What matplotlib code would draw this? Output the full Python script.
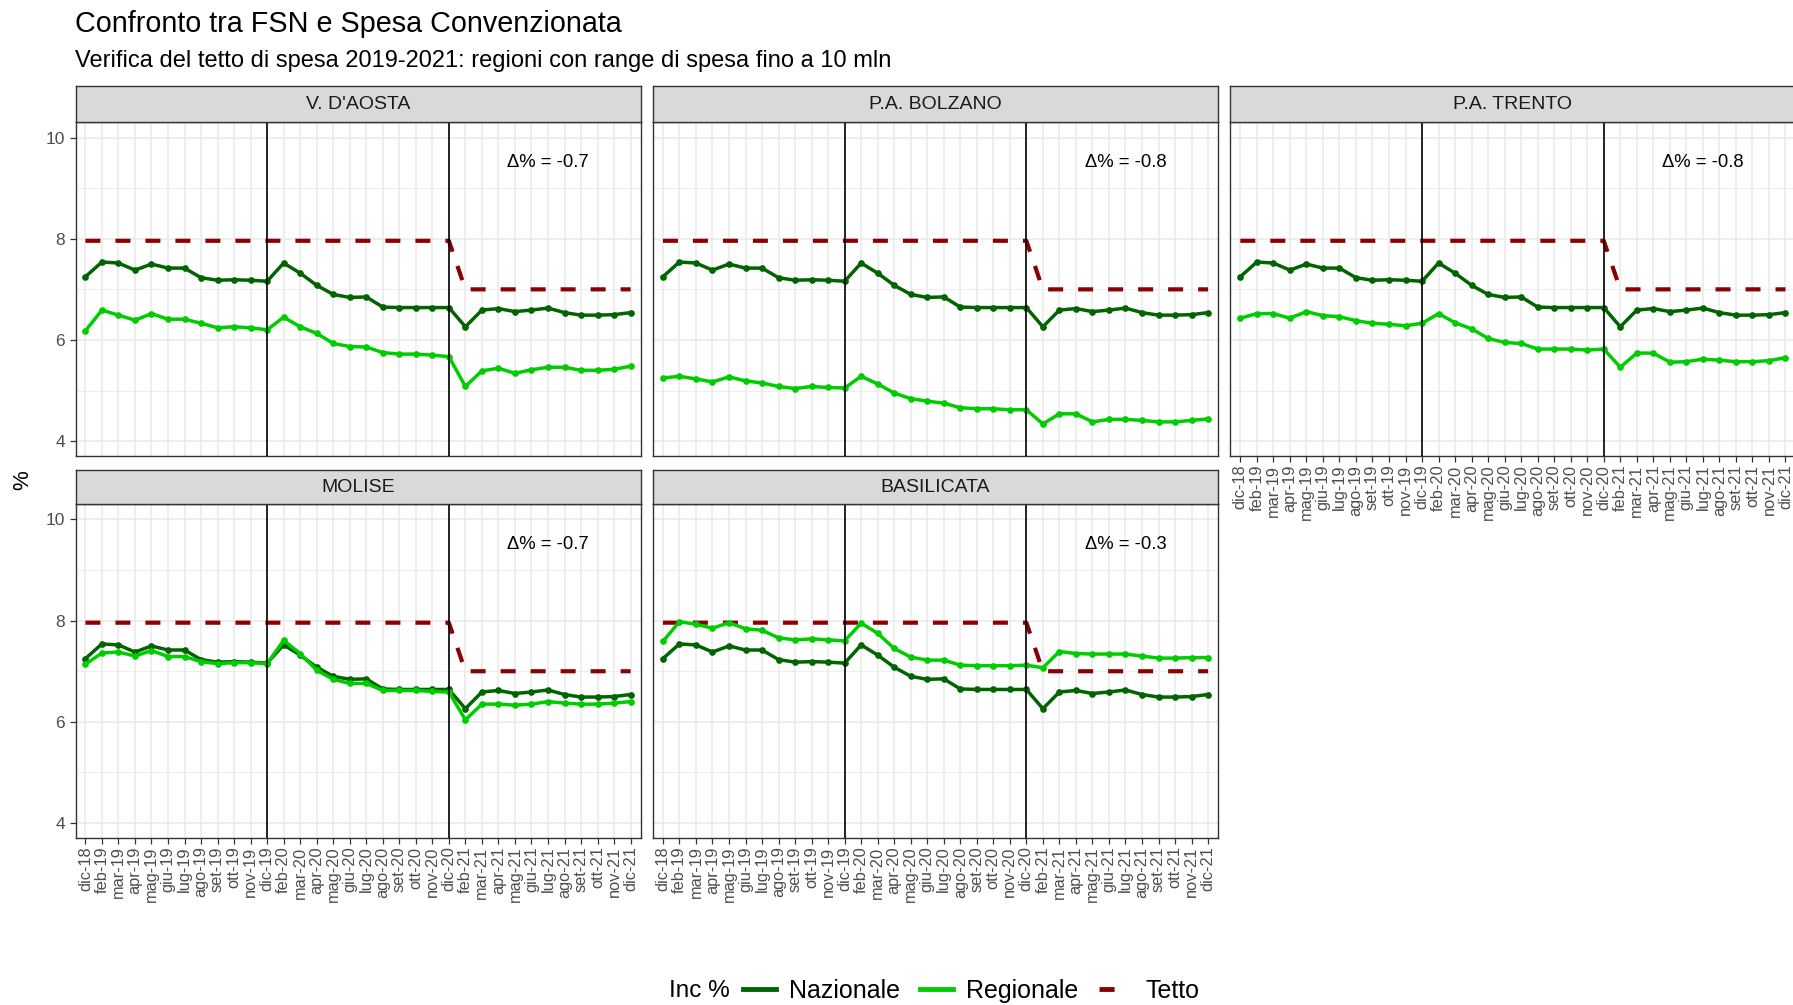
import matplotlib.pyplot as plt
from matplotlib.lines import Line2D

plt.rcParams["font.family"] = ["Liberation Sans", "DejaVu Sans"]

MONTHS = [
    "dic-18", "feb-19", "mar-19", "apr-19", "mag-19", "giu-19", "lug-19", "ago-19",
    "set-19", "ott-19", "nov-19", "dic-19", "feb-20", "mar-20", "apr-20", "mag-20",
    "giu-20", "lug-20", "ago-20", "set-20", "ott-20", "nov-20", "dic-20", "feb-21",
    "mar-21", "apr-21", "mag-21", "giu-21", "lug-21", "ago-21", "set-21", "ott-21",
    "nov-21", "dic-21",
]

NAZIONALE = [
    7.25, 7.54, 7.52, 7.38, 7.50, 7.42, 7.42, 7.23, 7.18, 7.19, 7.18, 7.16,
    7.52, 7.32, 7.08, 6.90, 6.84, 6.85, 6.65, 6.64, 6.64, 6.64, 6.64,
    6.26, 6.59, 6.62, 6.56, 6.59, 6.63, 6.54, 6.49, 6.49, 6.50, 6.54,
]

TETTO = [
    7.96, 7.96, 7.96, 7.96, 7.96, 7.96, 7.96, 7.96, 7.96, 7.96, 7.96, 7.96,
    7.96, 7.96, 7.96, 7.96, 7.96, 7.96, 7.96, 7.96, 7.96, 7.96, 7.96,
    7.00, 7.00, 7.00, 7.00, 7.00, 7.00, 7.00, 7.00, 7.00, 7.00, 7.00,
]

REG_VDA = [
    6.18, 6.59, 6.49, 6.39, 6.52, 6.41, 6.41, 6.33, 6.24, 6.26, 6.24, 6.20,
    6.45, 6.26, 6.13, 5.93, 5.87, 5.86, 5.75, 5.72, 5.72, 5.70, 5.67,
    5.08, 5.39, 5.44, 5.34, 5.41, 5.46, 5.46, 5.40, 5.40, 5.42, 5.48,
]
REG_BOLZANO = [
    5.25, 5.28, 5.23, 5.17, 5.27, 5.19, 5.15, 5.08, 5.04, 5.08, 5.06, 5.05,
    5.28, 5.13, 4.95, 4.84, 4.79, 4.75, 4.66, 4.64, 4.64, 4.62, 4.62,
    4.34, 4.54, 4.54, 4.38, 4.43, 4.43, 4.41, 4.38, 4.38, 4.41, 4.44,
]
REG_TRENTO = [
    6.43, 6.52, 6.52, 6.43, 6.56, 6.48, 6.46, 6.38, 6.33, 6.31, 6.28, 6.33,
    6.52, 6.34, 6.22, 6.03, 5.95, 5.93, 5.82, 5.82, 5.82, 5.80, 5.82,
    5.46, 5.74, 5.74, 5.56, 5.57, 5.62, 5.60, 5.57, 5.57, 5.59, 5.65,
]
REG_MOLISE = [
    7.14, 7.36, 7.38, 7.30, 7.41, 7.29, 7.29, 7.19, 7.15, 7.17, 7.17, 7.15,
    7.61, 7.35, 7.02, 6.84, 6.76, 6.76, 6.62, 6.62, 6.62, 6.60, 6.59,
    6.04, 6.35, 6.35, 6.33, 6.35, 6.40, 6.37, 6.35, 6.35, 6.37, 6.40,
]
REG_BASILICATA = [
    7.59, 7.98, 7.93, 7.85, 7.96, 7.84, 7.81, 7.66, 7.62, 7.64, 7.62, 7.60,
    7.95, 7.75, 7.45, 7.28, 7.22, 7.22, 7.12, 7.11, 7.11, 7.11, 7.12,
    7.07, 7.39, 7.35, 7.34, 7.34, 7.34, 7.30, 7.26, 7.26, 7.27, 7.27,
]

REGIONS = ["V. D'AOSTA", "P.A. BOLZANO", "P.A. TRENTO", "MOLISE", "BASILICATA"]
REGIONALE = [REG_VDA, REG_BOLZANO, REG_TRENTO, REG_MOLISE, REG_BASILICATA]
DELTA = [-0.7, -0.8, -0.8, -0.7, -0.3]
BREAKS = ["dic-19", "dic-20"]

C_NAZ = "#006400"
C_REG = "#00CD00"
C_TETTO = "#8B0000"

W, H = 1793, 1005
fig = plt.figure(figsize=(W / 100, H / 100), dpi=100)


def fx(px):
    return px / W


def fy(px):
    return 1 - px / H


# (strip_top, panel_top, panel_bottom) in pixels per row, left edge per column
COL_X = [75.5, 653.0, 1230.4]
PANEL_W = 565.0
ROWS = [(86.0, 122.4, 456.3), (470.0, 504.3, 838.2)]
LAYOUT = [(0, 0), (0, 1), (0, 2), (1, 0), (1, 1)]

x = list(range(len(MONTHS)))

for i, (name, reg, delta) in enumerate(zip(REGIONS, REGIONALE, DELTA)):
    r, c = LAYOUT[i]
    s_top, p_top, p_bot = ROWS[r]
    left = COL_X[c]
    ax = fig.add_axes([fx(left), fy(p_bot), PANEL_W / W, (p_bot - p_top) / H])
    sax = fig.add_axes([fx(left), fy(p_top), PANEL_W / W, (p_top - s_top) / H])

    # strip
    sax.set_facecolor("#D9D9D9")
    sax.set_xticks([])
    sax.set_yticks([])
    for sp in sax.spines.values():
        sp.set_color("#333333")
        sp.set_linewidth(1.0)
    sax.text(0.5, 0.5, name, ha="center", va="center", fontsize=14,
             color="#1A1A1A", transform=sax.transAxes)

    # panel
    ax.set_xlim(-0.6, len(MONTHS) - 0.4)
    ax.set_ylim(3.7, 10.3)
    ax.set_yticks([4, 6, 8, 10])
    ax.set_yticks([5, 7, 9], minor=True)
    ax.set_xticks(x)
    ax.grid(which="major", color="#EBEBEB", lw=1.2)
    ax.grid(which="minor", axis="y", color="#EBEBEB", lw=0.6)
    ax.set_axisbelow(True)
    for sp in ax.spines.values():
        sp.set_color("#333333")
        sp.set_linewidth(1.0)
    ax.tick_params(which="minor", length=0)
    ax.tick_params(which="major", length=4, width=0.9, color="#333333",
                   labelcolor="#4D4D4D")

    show_x = (r == 1) or (c == 2)
    if show_x:
        ax.set_xticklabels(MONTHS, rotation=90, fontsize=11.8)
        ax.tick_params(axis="x", pad=2)
    else:
        ax.tick_params(axis="x", length=0, labelbottom=False)
    if c == 0:
        ax.tick_params(axis="y", labelsize=12.5)
    else:
        ax.tick_params(axis="y", length=0, labelleft=False)

    ax.plot(x, TETTO, color=C_TETTO, lw=3.0, dashes=(3.6, 3.6), zorder=2)
    ax.plot(x, NAZIONALE, color=C_NAZ, lw=2.5, marker="o", ms=3.8, zorder=3)
    ax.plot(x, reg, color=C_REG, lw=2.5, marker="o", ms=3.8, zorder=3)
    for b in BREAKS:
        ax.axvline(MONTHS.index(b), color="black", lw=1.2, zorder=4)

    ax.text(28, 9.5, f"\u0394% = {delta}", ha="center", va="center",
            fontsize=13.3, color="black")

fig.text(fx(75), fy(24), "Confronto tra FSN e Spesa Convenzionata",
         fontsize=20.7, va="center", ha="left", color="black")
fig.text(fx(75), fy(61), "Verifica del tetto di spesa 2019-2021: regioni con range di spesa fino a 10 mln",
         fontsize=17, va="center", ha="left", color="black")
fig.text(fx(23), fy(480), "%", rotation=90, fontsize=16, va="center", ha="center")

# legend
fig.text(fx(669), fy(991), "Inc %", fontsize=17.5, va="center", ha="left")
handles = [
    Line2D([], [], color=C_NAZ, lw=3.5),
    Line2D([], [], color=C_REG, lw=3.5),
    Line2D([], [], color=C_TETTO, lw=3.5, dashes=(3.1, 10)),
]
fig.legend(handles, ["Nazionale", "Regionale", "Tetto"], loc="center left",
           bbox_to_anchor=(fx(743), fy(991)), ncol=3, frameon=False,
           fontsize=18, handlelength=1.3, handletextpad=0.55, columnspacing=0.8,
           borderaxespad=0, borderpad=0)

fig.savefig("out.png", dpi=100)
